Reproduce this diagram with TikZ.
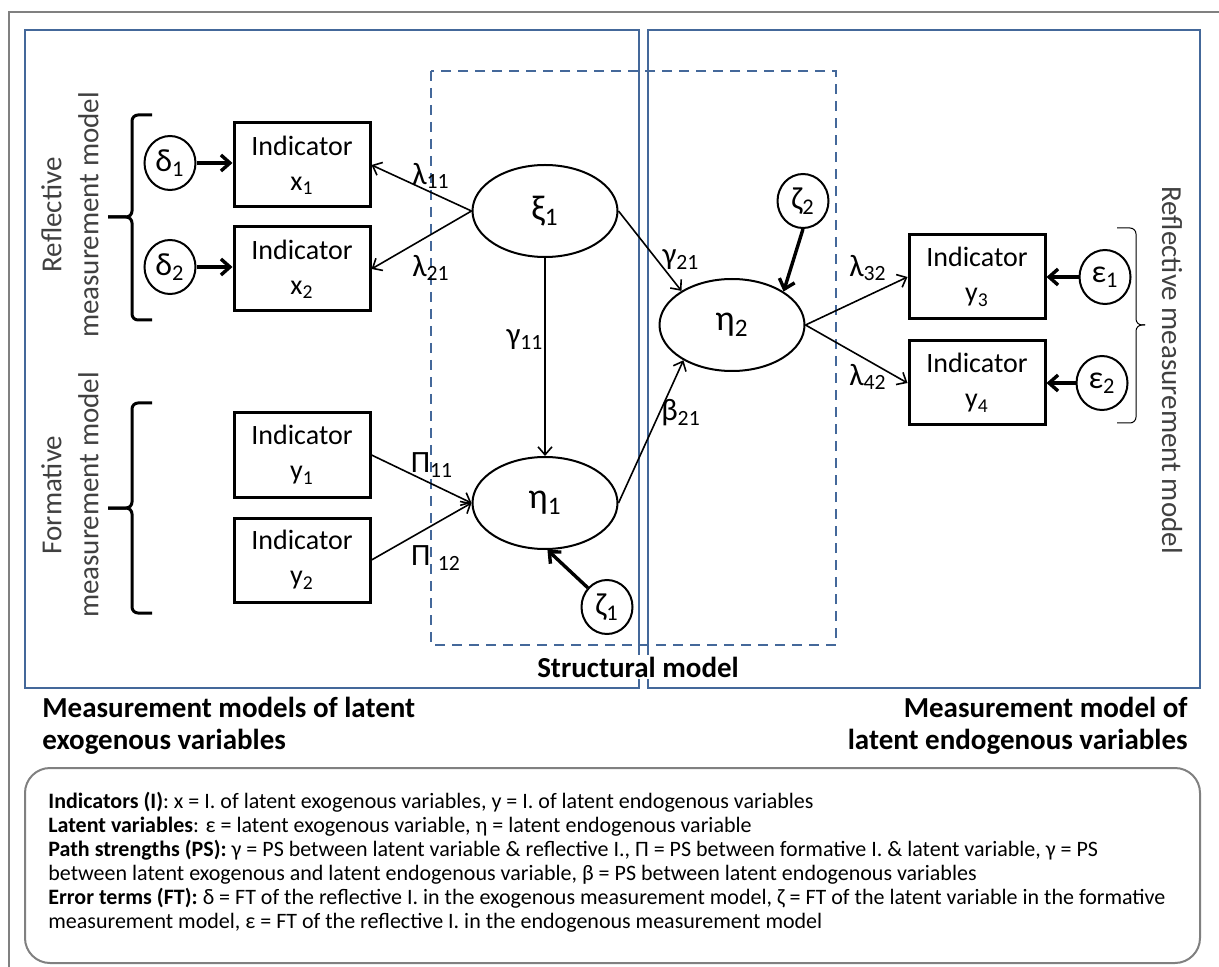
\documentclass[tikz,border=0pt]{standalone}
\usepackage{fontspec}
\setmainfont{Carlito}
\usetikzlibrary{arrows.meta,shapes.geometric}

\definecolor{frameblue}{RGB}{68,104,154}
\definecolor{framegray}{RGB}{128,128,128}
\definecolor{sidegray}{RGB}{64,64,64}

\begin{document}
\begin{tikzpicture}[x=0.5pt,y=-0.5pt,
  ind/.style={draw,line width=1.5pt,minimum width=68pt,minimum height=42pt,
    inner sep=0pt,align=center,font=\fontsize{14}{17.5}\selectfont},
  lat/.style={draw,ellipse,line width=1pt,minimum width=72.5pt,minimum height=46pt,
    inner sep=0pt,font=\fontsize{18}{18}\selectfont},
  err/.style={draw,ellipse,line width=1pt,minimum width=25.5pt,minimum height=27pt,
    inner sep=0pt,font=\fontsize{16}{18}\selectfont},
  link/.style={line width=0.8pt,-{Straight Barb[length=4pt,width=7pt]}},
  errlink/.style={line width=1.7pt,-{Straight Barb[length=4.5pt,width=8pt]}},
  coef/.style={inner sep=0pt,font=\fontsize{15.5}{16}\selectfont},
  side/.style={text=sidegray,align=center,font=\fontsize{14.5}{18.5}\selectfont},
  headline/.style={inner sep=0pt,font=\bfseries\fontsize{14.5}{16}\selectfont},
  brace/.style={rounded corners=3pt},
]
\useasboundingbox (0,0) rectangle (1219,967);

% outer frame
\draw[framegray,line width=1.2pt] (9,967) -- (9,12) -- (1219,12);

% model regions
\draw[frameblue,line width=1pt] (25,30) rectangle (639,688);
\draw[frameblue,line width=1pt] (648,30) rectangle (1200,688);
\draw[frameblue,line width=0.8pt,dash pattern=on 5pt off 3.5pt] (431,71) rectangle (836,645);

% side labels and braces
\node[side,rotate=90] (reflL) at (70,215) {Reflective\\measurement model};
\node[side,rotate=90] (formL) at (70,495) {Formative\\measurement model};
\node[side,rotate=-90] (reflR) at (1172,370) {Reflective measurement model};

\draw[brace,line width=1.5pt] (152,115) -- (132,115) -- (132,217) -- (108,217);
\draw[brace,line width=1.5pt] (152,320) -- (132,320) -- (132,217) -- (108,217);
\draw[brace,line width=1.5pt] (152,403) -- (132,403) -- (132,508) -- (108,508);
\draw[brace,line width=1.5pt] (152,613) -- (132,613) -- (132,508) -- (108,508);
\draw[brace,line width=0.5pt] (1117,228) -- (1136,228) -- (1136,325) -- (1145,325);
\draw[brace,line width=0.5pt] (1117,423) -- (1136,423) -- (1136,325) -- (1145,325);

% indicators
\node[ind] (x1) at (302,165) {Indicator\\x\textsubscript{1}};
\node[ind] (x2) at (302,269) {Indicator\\x\textsubscript{2}};
\node[ind] (y1) at (302,455) {Indicator\\y\textsubscript{1}};
\node[ind] (y2) at (302,560) {Indicator\\y\textsubscript{2}};
\node[ind] (y3) at (977,277) {Indicator\\y\textsubscript{3}};
\node[ind] (y4) at (977,383) {Indicator\\y\textsubscript{4}};

% latent variables
\node[lat] (xi1) at (545,211) {ξ\textsubscript{1}};
\node[lat] (eta1) at (545,503) {η\textsubscript{1}};
\node[lat] (eta2) at (732,325) {η\textsubscript{2}};

% error terms
\node[err] (d1) at (170,163) {δ\textsubscript{1}};
\node[err] (d2) at (170,267) {δ\textsubscript{2}};
\node[err] (z1) at (607,607) {ζ\textsubscript{1}};
\node[err] (z2) at (803,201) {ζ\textsubscript{2}};
\node[err] (e1) at (1105,277) {ε\textsubscript{1}};
\node[err] (e2) at (1102,383) {ε\textsubscript{2}};

% paths
\draw[errlink] (d1) -- (d1 -| x1.west);
\draw[errlink] (d2) -- (d2 -| x2.west);
\draw[link] (xi1.west) -- (x1.east);
\draw[link] (xi1.west) -- (x2.east);
\draw[link] (xi1) -- (eta1);
\draw[link] (xi1.east) -- (eta2.146);
\draw[link] (y1.east) -- (eta1.west);
\draw[link] (y2.east) -- (eta1.west);
\draw[link] (eta1.east) -- (eta2.216);
\draw[errlink] (z1.135) -- (eta1.-87);
\draw[errlink] (z2.south) -- (eta2.33);
\draw[link] (eta2.east) -- (y3.west);
\draw[link] (eta2.east) -- (y4.west);
\draw[errlink] (e1) -- (y3);
\draw[errlink] (e2) -- (y4);

% coefficients
\node[coef] (l11) at (431,176) {λ\textsubscript{11}};
\node[coef] (l21) at (431,268) {λ\textsubscript{21}};
\node[coef] (g11) at (525,340) {γ\textsubscript{11}};
\node[coef] (g21) at (681,260) {γ\textsubscript{21}};
\node[coef] (b21) at (681,413) {β\textsubscript{21}};
\node[coef] (l32) at (868,268) {λ\textsubscript{32}};
\node[coef] (l42) at (868,377) {λ\textsubscript{42}};
\node[coef] (p11) at (432,465) {Π\textsubscript{11}};
\node[coef] (p12) at (436,558) {Π\textsubscript{\,\,12}};

% titles
\node[headline,fill=white,inner sep=1pt] (struct) at (638,667) {Structural model};
\node[headline,anchor=west,align=left] (exo) at (42,726)
  {Measurement models of latent\\[0pt]exogenous variables};
\node[headline,anchor=east,align=right] (endo) at (1188,726)
  {Measurement model of\\[0pt]latent endogenous variables};

% legend
\draw[framegray,line width=1pt,rounded corners=12.5pt] (25,768) rectangle (1200,963);
\node[anchor=north west,inner sep=0pt,align=left,font=\fontsize{11}{12}\selectfont] (legend) at (48,792)
{\textbf{Indicators (I)}: x = I. of latent exogenous variables, y = I. of latent endogenous variables\\
\textbf{Latent variables}: ε = latent exogenous variable, η = latent endogenous variable\\
\textbf{Path strengths (PS):} γ = PS between latent variable \& reflective I., Π = PS between formative I. \& latent variable, γ = PS\\
between latent exogenous and latent endogenous variable, β = PS between latent endogenous variables\\
\textbf{Error terms (FT):} δ = FT of the reflective I. in the exogenous measurement model, ζ = FT of the latent variable in the formative\\
measurement model, ε = FT of the reflective I. in the endogenous measurement model};
\end{tikzpicture}
\end{document}
